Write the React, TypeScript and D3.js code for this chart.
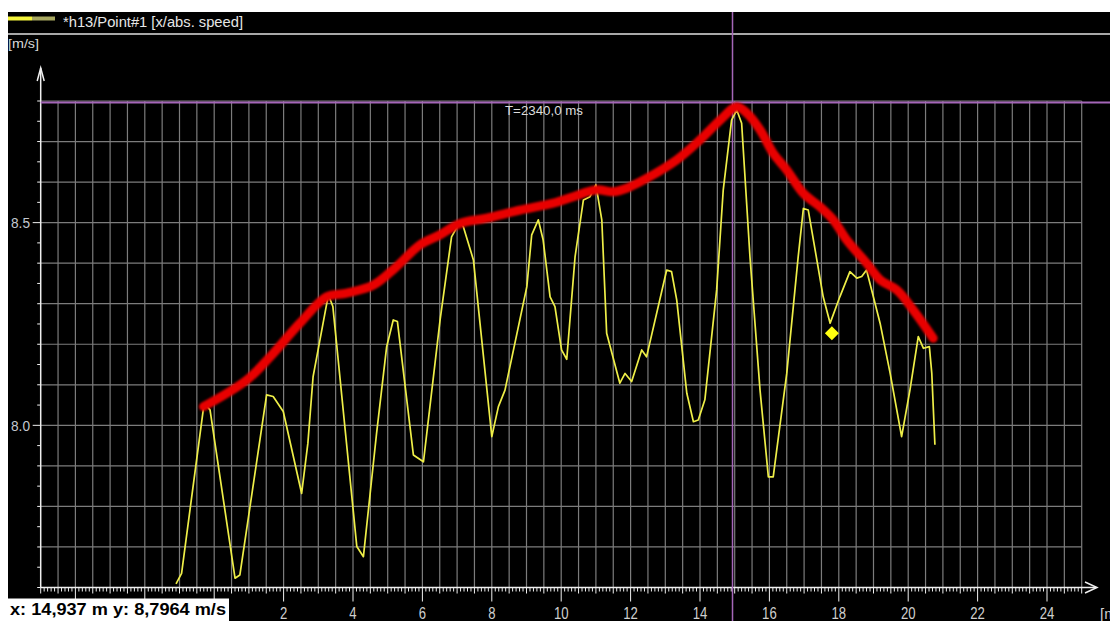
import React from 'react';
import * as d3 from 'd3';

// axis setup (data units)
const xDomain: [number, number] = [-5, 25];
const yDomain: [number, number] = [7.6, 8.8];
const xTickLabels = [2, 4, 6, 8, 10, 12, 14, 16, 18, 20, 22, 24];
const yTickLabels = [8.0, 8.5];

// yellow series: x position [m], abs. speed [m/s]
const speedX = [-1.1, -0.94, -0.31, -0.22, -0.12, 0.6, 0.74, 1.51, 1.7, 1.99, 2.52, 2.7, 2.85, 3.29, 3.42, 4.11, 4.3, 4.68, 4.97, 5.16, 5.28, 5.74, 6.03, 6.51, 6.84, 7.08, 7.18, 7.47, 8.0, 8.19, 8.38, 9.01, 9.15, 9.34, 9.48, 9.68, 9.82, 10.01, 10.16, 10.4, 10.64, 10.83, 11.0, 11.17, 11.31, 11.69, 11.84, 12.03, 12.32, 12.46, 13.04, 13.18, 13.33, 13.62, 13.81, 13.95, 14.14, 14.48, 14.67, 14.91, 15.06, 15.2, 15.44, 15.73, 15.97, 16.11, 16.5, 16.83, 16.98, 17.12, 17.55, 17.75, 18.03, 18.32, 18.52, 18.66, 18.8, 19.19, 19.48, 19.81, 20.05, 20.29, 20.44, 20.61, 20.68, 20.77];
const speedY = [7.609, 7.635, 8.042, 8.048, 8.038, 7.623, 7.631, 8.075, 8.071, 8.034, 7.832, 7.956, 8.12, 8.322, 8.293, 7.701, 7.676, 7.981, 8.194, 8.26, 8.256, 7.927, 7.91, 8.26, 8.465, 8.502, 8.49, 8.408, 7.972, 8.046, 8.087, 8.342, 8.47, 8.507, 8.457, 8.317, 8.293, 8.186, 8.163, 8.416, 8.556, 8.564, 8.593, 8.507, 8.227, 8.104, 8.128, 8.108, 8.186, 8.169, 8.383, 8.379, 8.309, 8.079, 8.009, 8.013, 8.063, 8.334, 8.581, 8.753, 8.778, 8.745, 8.416, 8.087, 7.873, 7.873, 8.128, 8.416, 8.535, 8.531, 8.317, 8.252, 8.317, 8.379, 8.363, 8.367, 8.383, 8.252, 8.128, 7.972, 8.087, 8.219, 8.19, 8.194, 8.128, 7.952];

// red envelope drawn over the peaks
const envX = [-0.31, 0.94, 1.61, 2.47, 3.24, 3.82, 4.59, 5.21, 5.93, 6.51, 7.08, 7.85, 8.81, 9.77, 10.35, 11.02, 11.5, 11.89, 12.46, 13.33, 14.0, 14.58, 15.06, 15.35, 15.73, 16.11, 16.5, 16.98, 17.46, 17.84, 18.23, 18.8, 19.19, 19.67, 20.15, 20.72];
const envY = [8.046, 8.112, 8.169, 8.252, 8.317, 8.326, 8.346, 8.388, 8.445, 8.47, 8.498, 8.511, 8.531, 8.548, 8.564, 8.581, 8.576, 8.585, 8.609, 8.655, 8.704, 8.753, 8.786, 8.77, 8.729, 8.671, 8.63, 8.572, 8.539, 8.507, 8.457, 8.4, 8.359, 8.334, 8.284, 8.215];

// cursor and marker
const cursorX = 14.937;
const cursorY = 8.7964;
const markerX = 17.8;
const markerY = 8.227;

const legendLabel = '*h13/Point#1 [x/abs. speed]';
const unitY = '[m/s]';
const unitX = '[m]';
const cursorTime = 'T=2340,0 ms';
const readout = 'x: 14,937 m y: 8,7964 m/s';

const FONT = '"Liberation Sans", Arial, sans-serif';

export default function App() {
  const W = 1110;
  const H = 621;
  const left = 40.7;
  const right = 1081.7;
  const bottom = 587.5;
  const top = 101;
  const x = d3.scaleLinear().domain(xDomain).range([left, right]);
  const y = d3.scaleLinear().domain(yDomain).range([bottom, top]);

  const speed = speedX.map((v, i) => [v, speedY[i]] as [number, number]);
  const env = envX.map((v, i) => [v, envY[i]] as [number, number]);
  const lineLin = d3.line<[number, number]>().x(d => x(d[0])).y(d => y(d[1]));
  const lineSmooth = d3
    .line<[number, number]>()
    .x(d => x(d[0]))
    .y(d => y(d[1]))
    .curve(d3.curveCatmullRom.alpha(0.5));

  const near = (v: number, step: number) => Math.abs(v / step - Math.round(v / step)) < 1e-6;

  const gridX = d3.range(-9, 51).map(i => i * 0.5); // -4.5 .. 25
  const gridY = d3.range(1, 13).map(i => 7.6 + i * 0.1);
  const xMinor = d3.range(0, 301).map(i => -5 + i * 0.1);
  const yMinor = d3.range(0, 25).map(i => 7.6 + i * 0.05);

  const mx = x(markerX);
  const my = y(markerY);

  return (
    <svg
      width={W}
      height={H}
      style={{ position: 'absolute', left: 0, top: 0, display: 'block' }}
      fontFamily={FONT}
    >
      <defs>
        <filter id="soft" x="-5%" y="-5%" width="110%" height="110%">
          <feGaussianBlur stdDeviation="0.9" />
        </filter>
      </defs>
      <rect x={0} y={0} width={W} height={H} fill="#ffffff" />
      <rect x={8} y={12} width={W - 8} height={H - 12} fill="#000000" />

      {/* legend header */}
      <line x1={8} x2={32} y1={18.5} y2={18.5} stroke="#f4f43c" strokeWidth={4} />
      <line x1={32} x2={55} y1={18.5} y2={18.5} stroke="#a8a860" strokeWidth={4} />
      <text x={63} y={26.5} fontSize={15} fill="#e6e6e6" textLength={180} lengthAdjust="spacingAndGlyphs">
        {legendLabel}
      </text>
      <line x1={8} x2={W} y1={34} y2={34} stroke="#e0e0e0" strokeWidth={1.6} />
      <text x={8} y={48} fontSize={13} fill="#d8d8d8" textLength={31} lengthAdjust="spacingAndGlyphs">
        {unitY}
      </text>

      {/* grid */}
      <g stroke="#7c7c7c" strokeWidth={1.2}>
        {gridX.map(v => (
          <line key={'gx' + v} x1={x(v)} x2={x(v)} y1={top} y2={bottom} />
        ))}
        {gridY.map(v => (
          <line key={'gy' + v} x1={left} x2={right} y1={y(v)} y2={y(v)} />
        ))}
      </g>

      {/* axes */}
      <g stroke="#f0f0f0" strokeWidth={1.5} fill="none">
        <line x1={left} x2={left} y1={68} y2={bottom} />
        <polyline points={`${left - 3.5},81 ${left},68 ${left + 3.5},81`} />
        <line x1={left} x2={1096} y1={bottom} y2={bottom} />
        <polyline points={`1085,582 1097,${bottom} 1085,593`} />
        {xMinor.map(v => {
          const len = near(v, 2) ? 14 : near(v, 0.5) ? 6 : 4;
          return <line key={'xt' + v.toFixed(1)} x1={x(v)} x2={x(v)} y1={bottom} y2={bottom + len} strokeWidth={1} />;
        })}
        {yMinor.map(v => {
          const len = near(v - 8, 0.5) ? 8 : 3.5;
          return <line key={'yt' + v.toFixed(2)} x1={left - len} x2={left} y1={y(v)} y2={y(v)} strokeWidth={1} />;
        })}
      </g>

      {/* tick labels */}
      {yTickLabels.map(v => (
        <text
          key={'yl' + v}
          x={30}
          y={y(v) + 5.5}
          fontSize={15}
          fill="#c4c8d0"
          textAnchor="end"
          textLength={19}
          lengthAdjust="spacingAndGlyphs"
        >
          {v.toFixed(1)}
        </text>
      ))}
      {xTickLabels.map(v => {
        const s = String(v);
        return (
          <text
            key={'xl' + v}
            x={x(v)}
            y={619}
            fontSize={16}
            fill="#cfcfcf"
            textAnchor="middle"
            textLength={s.length * 7.3}
            lengthAdjust="spacingAndGlyphs"
          >
            {s}
          </text>
        );
      })}
      <text x={1100} y={619} fontSize={15} fill="#cfcfcf">
        {unitX}
      </text>

      {/* cursor */}
      <line x1={left} x2={W} y1={y(cursorY)} y2={y(cursorY)} stroke="#a466b8" strokeWidth={2} />
      <line x1={x(cursorX)} x2={x(cursorX)} y1={12} y2={H} stroke="#a466b8" strokeWidth={1.5} />
      <text x={505} y={114.5} fontSize={12.5} fill="#dcdcdc" textLength={78} lengthAdjust="spacingAndGlyphs">
        {cursorTime}
      </text>

      {/* series */}
      <path d={lineLin(speed) || ''} fill="none" stroke="#eeee48" strokeWidth={1.7} strokeLinejoin="round" />
      <path
        d={lineSmooth(env) || ''}
        fill="none"
        stroke="#e80000"
        strokeWidth={9}
        strokeLinecap="round"
        strokeLinejoin="round"
        filter="url(#soft)"
      />
      <path d={`M${mx},${my - 7} L${mx + 7},${my} L${mx},${my + 7} L${mx - 7},${my} Z`} fill="#ffff10" />

      {/* readout box */}
      <rect x={8} y={598.5} width={221} height={H - 598.5} fill="#ffffff" />
      <text
        x={10}
        y={615}
        fontSize={17}
        fontWeight="bold"
        fill="#000000"
        textLength={216}
        lengthAdjust="spacingAndGlyphs"
      >
        {readout}
      </text>
    </svg>
  );
}
